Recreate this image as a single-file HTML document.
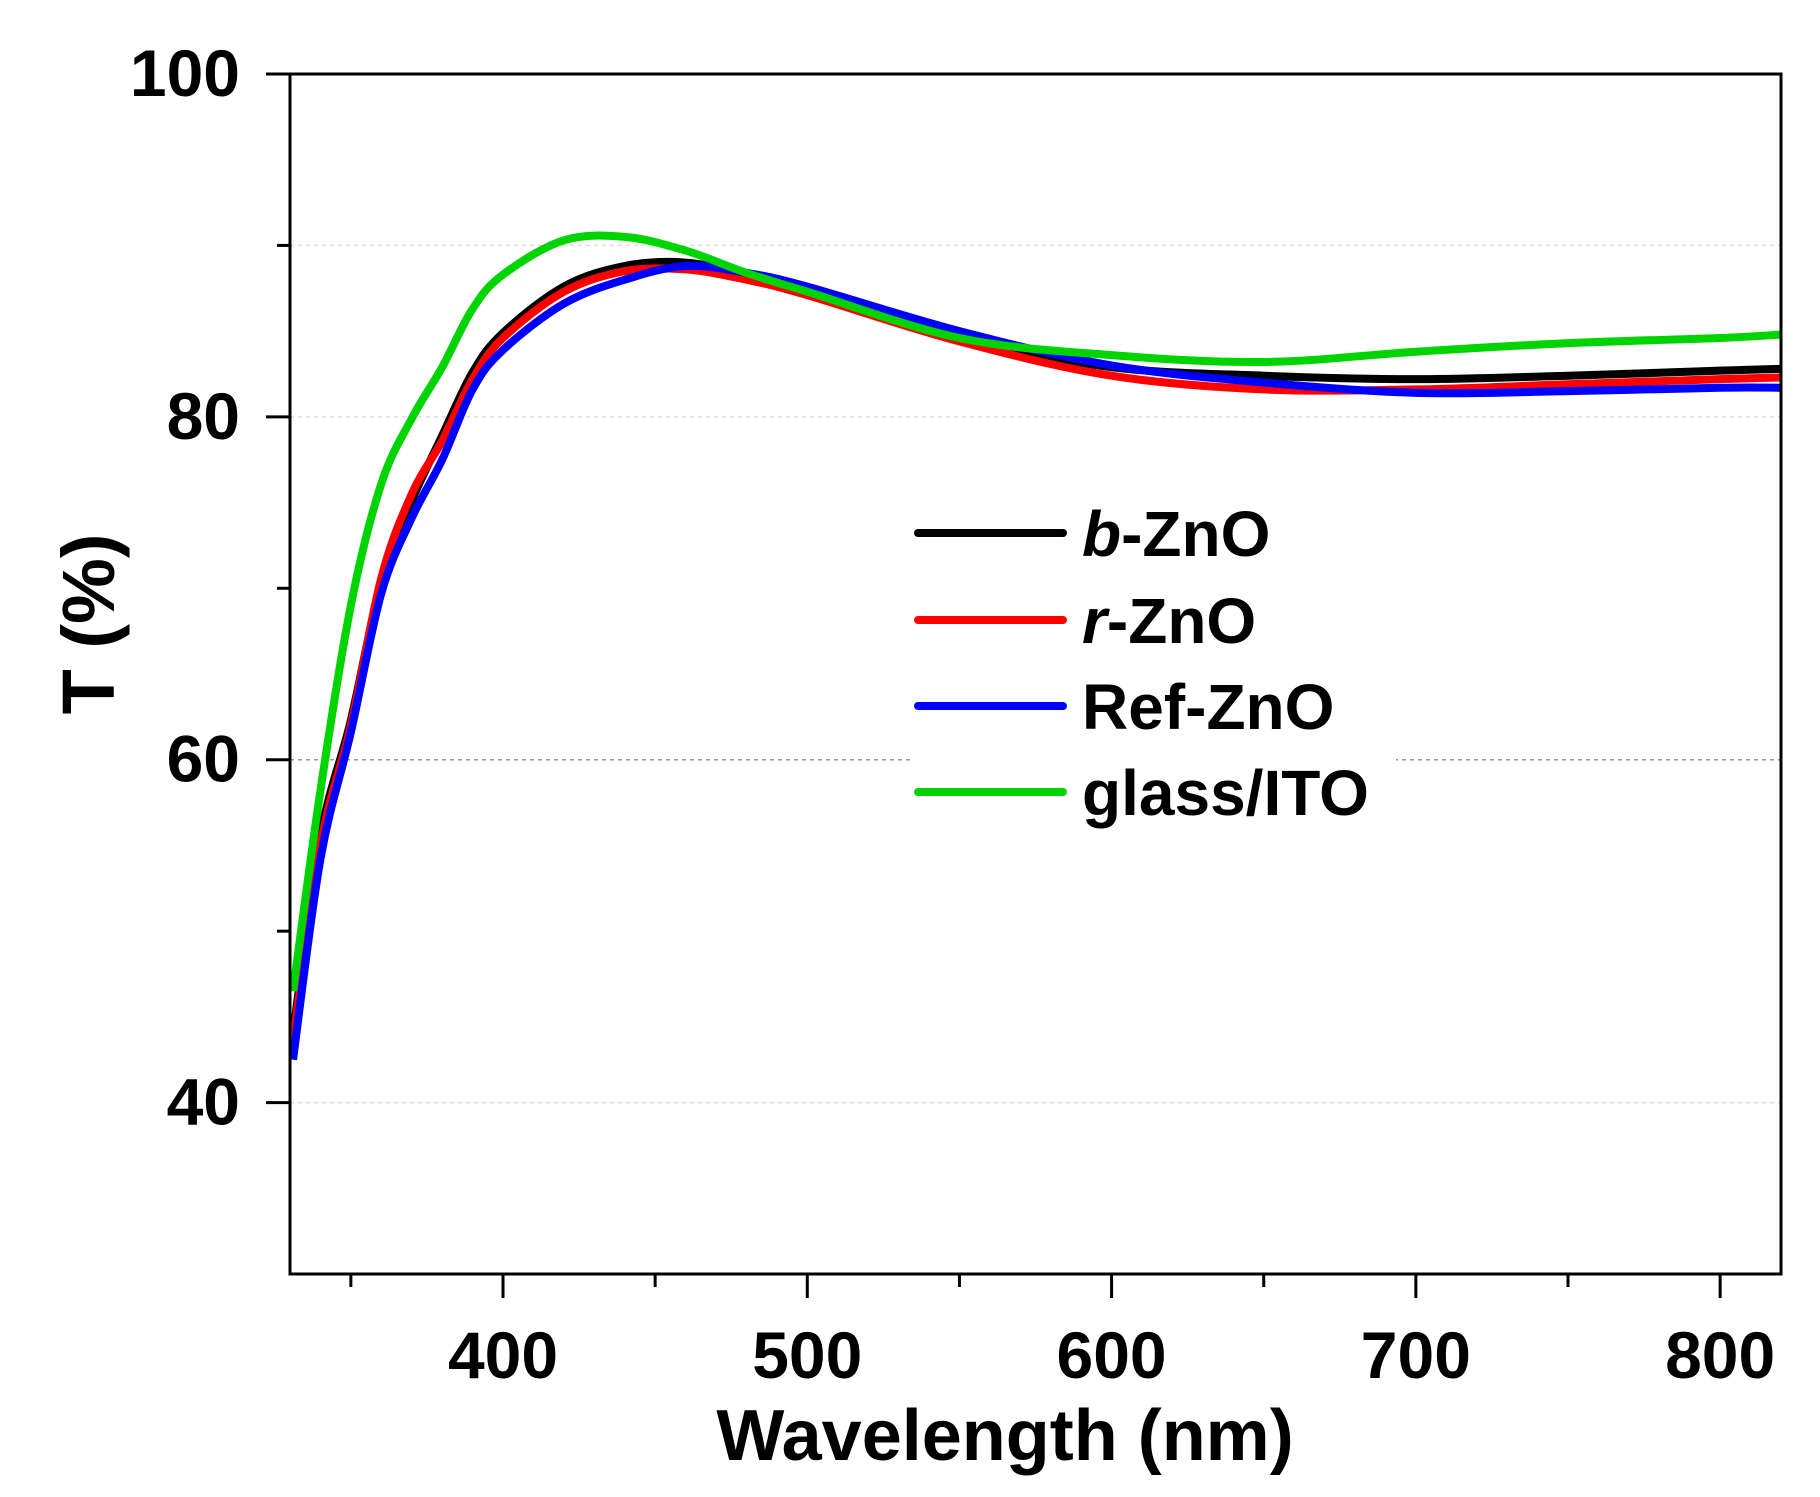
<!DOCTYPE html>
<html><head><meta charset="utf-8"><style>
html,body{margin:0;padding:0;background:#fff;}
svg{display:block;font-family:"Liberation Sans",Arial,sans-serif;font-weight:bold;}
</style></head><body>
<svg id="chart" width="1820" height="1497" viewBox="0 0 1820 1497">
<g id="grid"></g>
<g id="series"></g>
<g id="axes"></g>
<g id="legend"></g>
<text x="1005" y="1460" font-size="72" text-anchor="middle">Wavelength (nm)</text>
<text transform="translate(114,624) rotate(-90)" font-size="74" text-anchor="middle">T (%)</text>
</svg>
<script>
const wl = [331,340,350,360,370,380,390,400,420,440,460,480,500,550,600,650,700,750,800,820];
const bZnO = [44.0,55.5,62.3,70.4,75.1,78.9,82.6,84.9,87.6,88.8,89.0,88.3,87.3,84.6,82.9,82.4,82.2,82.4,82.7,82.8];
const rZnO = [43.5,55.0,62.0,70.6,75.5,78.6,82.2,84.6,87.3,88.5,88.6,88.0,87.1,84.4,82.4,81.6,81.6,81.9,82.2,82.3];
const refZnO = [42.5,54.2,61.6,69.7,74.1,77.5,81.6,83.9,86.6,88.0,88.8,88.4,87.6,85.0,83.0,82.0,81.4,81.5,81.7,81.7];
const glassITO = [46.5,58.2,69.0,76.1,79.9,82.9,86.3,88.3,90.3,90.5,89.7,88.4,87.3,84.6,83.6,83.2,83.8,84.3,84.6,84.8];
const seriesNames = ["b-ZnO","r-ZnO","Ref-ZnO","glass/ITO"];
const seriesColors = ["#000000","#ff0000","#0000ff","#00d400"];
const xTicks = [400,500,600,700,800];
const xMinor = [350,450,550,650,750];
const yTicks = [100,80,60,40];
const yMinor = [90,70,50];
const gridVals = [90,80,60,40];

const X0=290,X1=1781,Y0=74,Y1=1274, XMIN=330, XMAX=820, YMIN=30, YMAX=100;
const sx = v => X0 + (v-XMIN)/(XMAX-XMIN)*(X1-X0);
const sy = v => Y1 - (v-YMIN)/(YMAX-YMIN)*(Y1-Y0);
const NS="http://www.w3.org/2000/svg";
function mk(tag, parent, attrs){const e=document.createElementNS(NS,tag);for(const k in attrs)e.setAttribute(k,attrs[k]);parent.appendChild(e);return e;}
const grid=document.getElementById('grid'), axes=document.getElementById('axes'), ser=document.getElementById('series'), leg=document.getElementById('legend');

gridVals.forEach(v=>{
  const l=mk('line',grid,{x1:X0,x2:X1,y1:sy(v),y2:sy(v),stroke:v===60?'#999':'#ddd','stroke-width':1.5,'stroke-dasharray':'4,4'});
  
  
});

function smooth(pts){
  let d='M'+pts[0][0]+','+pts[0][1];
  for(let i=0;i<pts.length-1;i++){
    const p0=pts[Math.max(0,i-1)],p1=pts[i],p2=pts[i+1],p3=pts[Math.min(pts.length-1,i+2)];
    const c1=[p1[0]+(p2[0]-p0[0])/6,p1[1]+(p2[1]-p0[1])/6];
    const c2=[p2[0]-(p3[0]-p1[0])/6,p2[1]-(p3[1]-p1[1])/6];
    d+=` C${c1[0]},${c1[1]} ${c2[0]},${c2[1]} ${p2[0]},${p2[1]}`;
  }
  return d;
}
const allSeries=[bZnO,rZnO,refZnO,glassITO];
[0,1,2,3].forEach(i=>{
  const pts=wl.map((w,j)=>[sx(w),sy(allSeries[i][j])]);
  const p=mk('path',ser,{d:smooth(pts),fill:'none',stroke:seriesColors[i],'stroke-width':8,'stroke-linejoin':'round'});
  
  
});

const frame=mk('rect',axes,{x:X0,y:Y0,width:X1-X0,height:Y1-Y0,fill:'none',stroke:'#000','stroke-width':3});


xTicks.forEach(v=>{
  const t=mk('line',axes,{x1:sx(v),x2:sx(v),y1:Y1,y2:Y1+24,stroke:'#000','stroke-width':3});
  
  
  const tx=mk('text',axes,{x:sx(v),y:1378,'font-size':66,'text-anchor':'middle'});
  tx.textContent=v;
  
  
});
xMinor.forEach(v=>{
  const t=mk('line',axes,{x1:sx(v),x2:sx(v),y1:Y1,y2:Y1+13,stroke:'#000','stroke-width':3});
  
  
});
yTicks.forEach(v=>{
  const t=mk('line',axes,{x1:X0-24,x2:X0,y1:sy(v),y2:sy(v),stroke:'#000','stroke-width':3});
  
  
  const tx=mk('text',axes,{x:240,y:sy(v)+22,'font-size':66,'text-anchor':'end'});
  tx.textContent=v;
  
  
});
yMinor.forEach(v=>{
  const t=mk('line',axes,{x1:X0-13,x2:X0,y1:sy(v),y2:sy(v),stroke:'#000','stroke-width':3});
  
  
});

const box=mk('rect',leg,{x:914,y:485,width:482,height:350,fill:'#fff'});


const rows=[533,620,706,792];
seriesNames.forEach((n,i)=>{
  const l=mk('line',leg,{x1:918,x2:1063,y1:rows[i],y2:rows[i],stroke:seriesColors[i],'stroke-width':8,'stroke-linecap':'round'});
  
  
  const t=mk('text',leg,{x:1082,y:rows[i]+23,'font-size':64});
  if(i<2){
    const it=mk('tspan',t,{'font-style':'italic'}); it.textContent=n[0];
    const rest=mk('tspan',t,{}); rest.textContent=n.slice(1);
  } else t.textContent=n;
  
  
});
</script>
</body></html>
